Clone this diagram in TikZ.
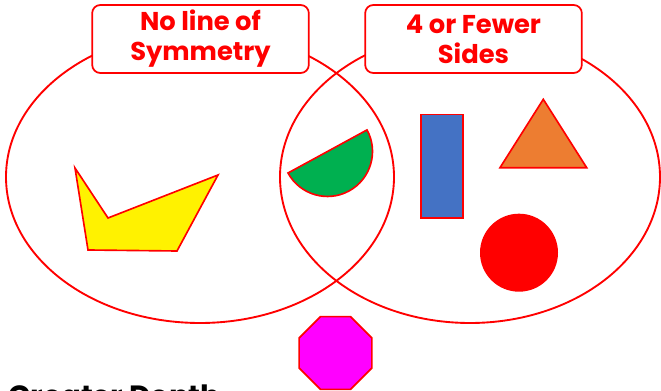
\documentclass[tikz,border=0pt]{standalone}
\usepackage{fontspec}
\usepackage{xcolor}
\newfontfamily\headfont{Poppins}
\usetikzlibrary{
	shapes.geometric,
	positioning
}
\definecolor{shapegreen}{HTML}{00B050}
\definecolor{shapeblue}{HTML}{4472C4}
\definecolor{shapeorange}{HTML}{ED7D31}
\definecolor{shapemagenta}{HTML}{FF00FF}

\begin{document}
\begin{tikzpicture}[
					x=0.03cm, y=0.03cm,
					ring/.style={
							draw=red,
							line width=1.6pt
						},
					heading/.style={
							rectangle,
							rounded corners=7pt,
							draw=red,
							fill=white,
							line width=1.5pt,
							minimum width=6.5cm,
							minimum height=2.04cm,
							inner sep=0pt,
							text=red,
							align=center,
							font=\headfont\bfseries\fontsize{22}{25.6}\selectfont
						},
					shape_edge/.style={
							draw=red,
							line width=1.4pt,
							line join=miter
						}
				]
				\useasboundingbox (0,0) rectangle (661,391);
				\clip (0,0) rectangle (661,391);

				% the two sets
				\draw[ring] (200,214) ellipse [x radius=194, y radius=146];
				\draw[ring] (470,214) ellipse [x radius=190, y radius=146];

				\node[heading] (NoSym) at (200.5,352) {No line of\\Symmetry};
				\node[heading] (FewSides) at (473.5,352) {4 or Fewer\\Sides};

				% shapes
				\draw[shape_edge, fill=yellow] (75,223) -- (108,173) -- (218,216)
					-- (177,140) -- (88,141) -- cycle;
				\draw[shape_edge, fill=shapegreen] (288,218)
					arc[start angle=208.6, end angle=388.6, radius=45] -- cycle;
				\node[shape_edge, fill=shapeblue, rectangle, inner sep=0pt,
					minimum width=1.26cm, minimum height=3.1cm] (Rect) at (442,224.7) {};
				\draw[shape_edge, fill=shapeorange] (543.3,291.7) -- (500,223.3)
					-- (586.7,223.3) -- cycle;
				\node[circle, fill=red, inner sep=0pt, minimum size=2.34cm] (Disc) at (519,138.3) {};
				\node[shape_edge, fill=shapemagenta, regular polygon, regular polygon sides=8,
					inner sep=0pt, minimum size=2.36cm] (Oct) at (335.5,38) {};

				\node[anchor=base west, inner sep=0pt,
					font=\headfont\bfseries\fontsize{25}{28}\selectfont] (Depth) at (8,-16) {Greater Depth};
		\end{tikzpicture}
\end{document}
